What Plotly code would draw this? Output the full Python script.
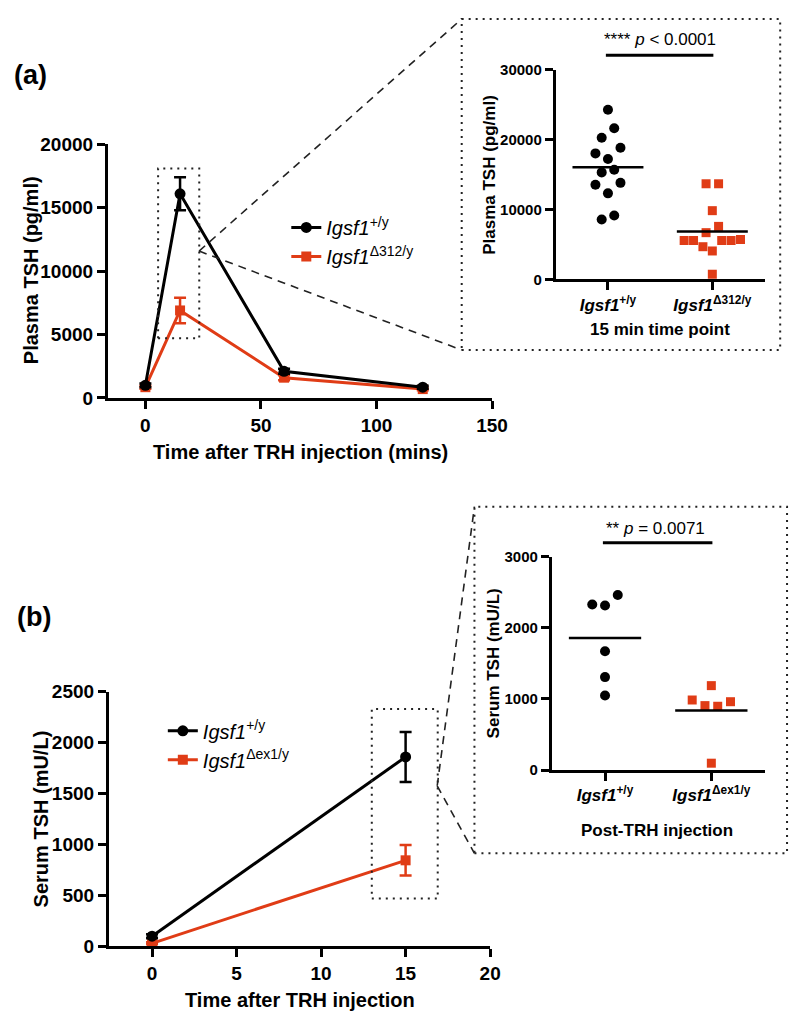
import numpy as np
import plotly.graph_objects as go

W, H = 797, 1014
RED = "#E03C16"
FONT = "Liberation Sans, Arial, sans-serif"

# ---- panel (a): plasma TSH time course ----
time_a = [0, 15, 60, 120]
wt_a = [1000, 16100, 2100, 850]
wt_a_sem = [150, 1300, 200, 120]
ko_a = [850, 6900, 1600, 700]
ko_a_sem = [120, 1000, 200, 100]

# 15 min individual values
wt_a_pts = [24300, 21650, 20300, 18860, 18050, 17250, 15700, 15330, 13550, 13830, 12330, 8580, 9150]
ko_a_pts = [13700, 13700, 9850, 7600, 6700, 5580, 5580, 4690, 4080, 5580, 5580, 5720, 750]
# horizontal scatter of the dots (category units)
wt_a_dx = [0, 0.06, -0.06, 0.12, -0.12, 0, 0.06, -0.06, -0.12, 0.12, 0, -0.06, 0.06]
ko_a_dx = [-0.06, 0.06, 0, 0.06, -0.06, -0.27, -0.18, -0.09, 0, 0.09, 0.18, 0.27, 0]

# ---- panel (b): serum TSH ----
time_b = [0, 15]
wt_b = [100, 1860]
wt_b_sem = [20, 245]
ko_b = [30, 845]
ko_b_sem = [10, 150]

wt_b_pts = [2328, 2314, 2461, 1670, 1307, 1049]
ko_b_pts = [985, 906, 1187, 897, 961, 97]
wt_b_dx = [-0.12, 0, 0.12, 0, 0, 0]
ko_b_dx = [-0.18, -0.06, 0, 0.06, 0.18, 0]

lab_wt = "<i>Igsf1</i><sup>+/y</sup>"
lab_ko_a = "<i>Igsf1</i><sup>Δ312/y</sup>"
lab_ko_b = "<i>Igsf1</i><sup>Δex1/y</sup>"


def px(x):
    return x / W


def py(y):
    return 1 - y / H


fig = go.Figure()

# main time courses (red first so black sits on top)
for xa, ya, t, k, ks, w, ws, lko, leg in [
    ("x", "y", time_a, ko_a, ko_a_sem, wt_a, wt_a_sem, lab_ko_a, "legend"),
    ("x3", "y3", time_b, ko_b, ko_b_sem, wt_b, wt_b_sem, lab_ko_b, "legend2"),
]:
    fig.add_trace(go.Scatter(
        x=t, y=k, xaxis=xa, yaxis=ya, mode="lines+markers", name=lko, legend=leg, legendrank=2,
        line=dict(color=RED, width=3), marker=dict(symbol="square", size=10, color=RED),
        error_y=dict(type="data", array=ks, color=RED, thickness=2.5, width=6),
        cliponaxis=False))
    fig.add_trace(go.Scatter(
        x=t, y=w, xaxis=xa, yaxis=ya, mode="lines+markers", name=lab_wt, legend=leg, legendrank=1,
        line=dict(color="black", width=3), marker=dict(symbol="circle", size=11, color="black"),
        error_y=dict(type="data", array=ws, color="black", thickness=2.5, width=6),
        cliponaxis=False))

# inset scatter plots
for xa, ya, wp, wdx, kp, kdx in [
    ("x2", "y2", wt_a_pts, wt_a_dx, ko_a_pts, ko_a_dx),
    ("x4", "y4", wt_b_pts, wt_b_dx, ko_b_pts, ko_b_dx),
]:
    fig.add_trace(go.Scatter(
        x=[0 + d for d in wdx], y=wp, xaxis=xa, yaxis=ya, mode="markers", showlegend=False,
        marker=dict(symbol="circle", size=10, color="black"), cliponaxis=False))
    fig.add_trace(go.Scatter(
        x=[1 + d for d in kdx], y=kp, xaxis=xa, yaxis=ya, mode="markers", showlegend=False,
        marker=dict(symbol="square", size=9, color=RED), cliponaxis=False))
    for c, vals in [(0, wp), (1, kp)]:
        m = float(np.mean(vals))
        fig.add_trace(go.Scatter(
            x=[c - 0.34, c + 0.34], y=[m, m], xaxis=xa, yaxis=ya, mode="lines", showlegend=False,
            line=dict(color="black", width=2.5)))

axis_common = dict(showline=True, linewidth=3, linecolor="black", ticks="outside", ticklen=8,
                   tickwidth=3, tickcolor="black", showgrid=False, zeroline=False, tickformat="d",
                   tickfont=dict(family=FONT, size=19, color="black", weight="bold"))
inset_common = dict(axis_common, tickfont=dict(family=FONT, size=15, color="black", weight="bold"))

fig.update_layout(
    width=W, height=H, margin=dict(l=0, r=0, t=0, b=0),
    plot_bgcolor="white", paper_bgcolor="white", font=dict(family=FONT, color="black"),
    xaxis=dict(axis_common, domain=[px(102), px(494)], range=[-16.2, 150], tickvals=[0, 50, 100, 150], anchor="y"),
    yaxis=dict(axis_common, domain=[py(388), py(129)], range=[0, 20000], dtick=5000, anchor="x"),
    xaxis2=dict(inset_common, domain=[px(559), px(772)], range=[-0.5, 1.5], tickvals=[0, 1],
                ticktext=[lab_wt, lab_ko_a], anchor="y2",
                tickfont=dict(family=FONT, size=17, color="black", weight="bold")),
    yaxis2=dict(inset_common, domain=[py(267), py(53)], range=[0, 30000], dtick=10000, anchor="x2"),
    xaxis3=dict(axis_common, domain=[px(103), px(492)], range=[-2.55, 20], dtick=5, anchor="y3"),
    yaxis3=dict(axis_common, domain=[py(948), py(688)], range=[0, 2500], dtick=500, anchor="x3"),
    xaxis4=dict(inset_common, domain=[px(555), px(772)], range=[-0.5, 1.5], tickvals=[0, 1],
                ticktext=[lab_wt, lab_ko_b], anchor="y4",
                tickfont=dict(family=FONT, size=17, color="black", weight="bold")),
    yaxis4=dict(inset_common, domain=[py(768), py(550)], range=[0, 3000], dtick=1000, anchor="x4"),
    legend=dict(x=px(284), y=py(194), xanchor="left", yanchor="top", bgcolor="rgba(0,0,0,0)",
                font=dict(family=FONT, size=20, color="black"), tracegroupgap=0, itemwidth=30),
    legend2=dict(x=px(158), y=py(708), xanchor="left", yanchor="top", bgcolor="rgba(0,0,0,0)",
                 font=dict(family=FONT, size=20, color="black"), tracegroupgap=0, itemwidth=30),
)

dot = dict(color="#222", width=2, dash="2px,5px")
dash = dict(color="#222", width=1.6, dash="8px,6px")
shapes = [
    # zoom boxes in the time courses
    dict(type="rect", xref="x", yref="y", x0=5.5, x1=23.3, y0=4700, y1=18100, line=dot),
    dict(type="rect", xref="x3", yref="y3", x0=13.0, x1=16.9, y0=470, y1=2330, line=dot),
    # inset frames
    dict(type="rect", xref="paper", yref="paper", x0=px(463), x1=px(788), y0=py(339), y1=py(1), line=dot),
    dict(type="rect", xref="paper", yref="paper", x0=px(476), x1=px(795), y0=py(853), y1=py(499), line=dot),
    # connectors
    dict(type="line", xref="paper", yref="paper", x0=px(195), y0=py(238), x1=px(463), y1=py(1), line=dash),
    dict(type="line", xref="paper", yref="paper", x0=px(195), y0=py(238), x1=px(463), y1=py(339), line=dash),
    dict(type="line", xref="paper", yref="paper", x0=px(438), y0=py(784), x1=px(476), y1=py(499), line=dash),
    dict(type="line", xref="paper", yref="paper", x0=px(438), y0=py(784), x1=px(476), y1=py(853), line=dash),
    # significance bars
    dict(type="line", xref="x2 domain", yref="y2 domain", x0=0.24, x1=0.755, y0=1.07, y1=1.07,
         line=dict(color="black", width=3)),
    dict(type="line", xref="x4 domain", yref="y4 domain", x0=0.24, x1=0.755, y0=1.065, y1=1.065,
         line=dict(color="black", width=3)),
]
fig.update_layout(shapes=shapes)


def note(text, x, y, size, bold=True, angle=0, xanchor="center"):
    fig.add_annotation(text=text, x=px(x), y=py(y), xref="paper", yref="paper", showarrow=False,
                       xanchor=xanchor, yanchor="middle", textangle=angle,
                       font=dict(family=FONT, size=size, color="black", weight="bold" if bold else "normal"))


note("(a)", 4, 58, 27, xanchor="left")
note("(b)", 7, 612, 27, xanchor="left")
note("Plasma TSH (pg/ml)", 23, 258, 20, angle=-90)
note("Time after TRH injection (mins)", 298, 443, 20)
note("Serum TSH (mU/L)", 34, 818, 20, angle=-90)
note("Time after TRH injection", 298, 1003, 20)
note("Plasma TSH (pg/ml)", 492, 160, 17, angle=-90)
note("15 min time point", 665, 318, 17)
note("Serum TSH (mU/L)", 495, 659, 17, angle=-90)
note("Post-TRH injection", 662, 830, 17)
note("**** <i>p</i> &lt; 0.0001", 665, 22, 17, bold=False)
note("** <i>p</i> = 0.0071", 661, 521, 17, bold=False)

fig.write_html("out.html")
